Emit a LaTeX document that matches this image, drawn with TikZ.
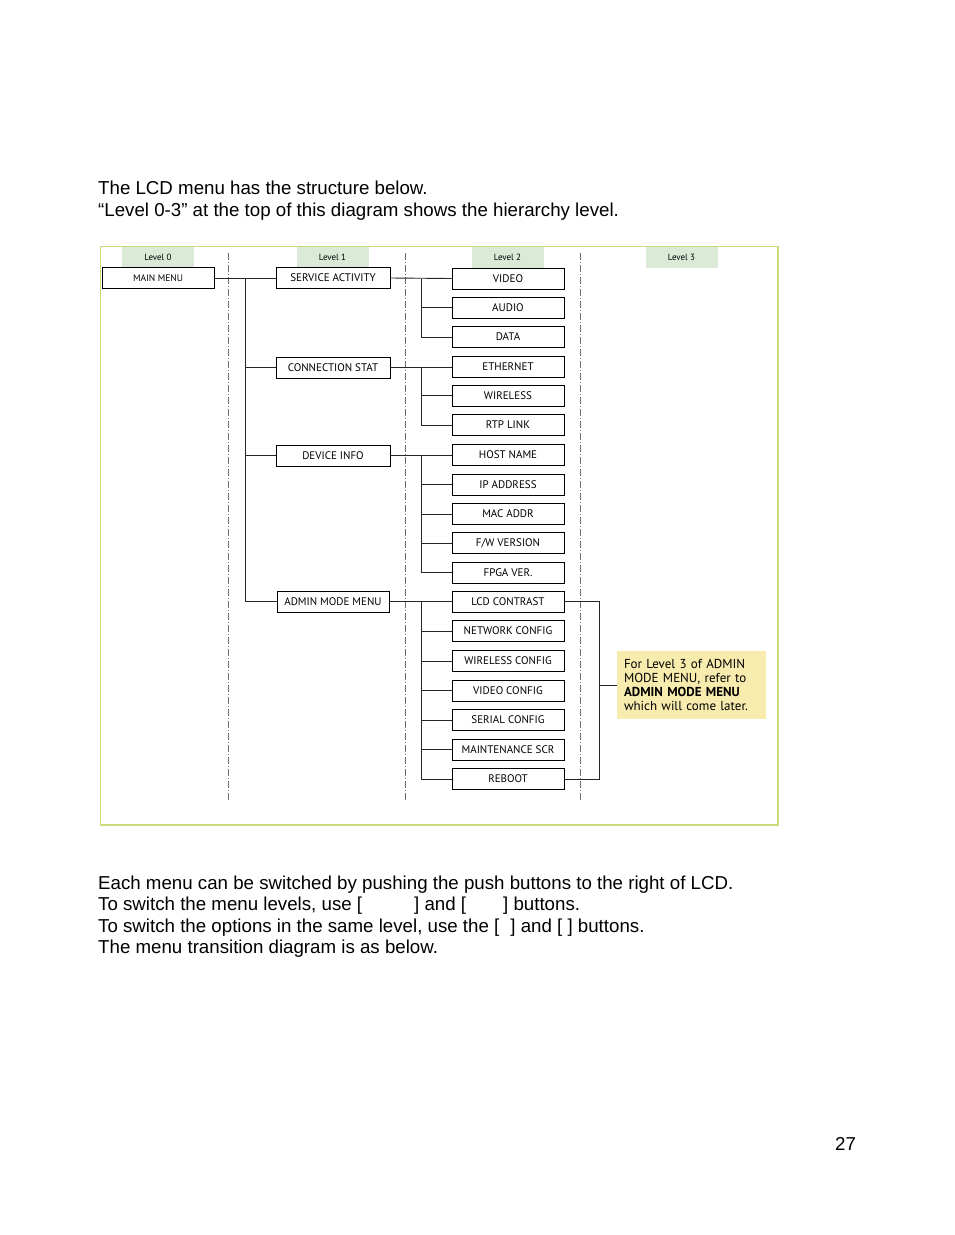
\documentclass[tikz,border=0pt]{standalone}
\usepackage{fontspec}
\setmainfont{Liberation Sans}
\newfontfamily\diagfont{PT Sans}
\definecolor{frameg}{HTML}{C8DC7C}
\definecolor{lvlg}{HTML}{DAEAD7}
\definecolor{notey}{HTML}{F8EBAE}
\definecolor{dashg}{HTML}{6E6E6E}
\begin{document}
\begin{tikzpicture}[x=1pt,y=-1pt,
  body/.style={anchor=base west,inner sep=0pt,font=\fontsize{18.7}{21.5}\selectfont},
  lvlhead/.style={fill=lvlg,minimum width=72pt,minimum height=21pt,inner sep=0pt,font=\diagfont\fontsize{9}{10}\selectfont},
  mbox/.style={draw,line width=0.9pt,fill=white,minimum width=112pt,minimum height=21pt,inner sep=0pt,font=\diagfont\fontsize{11}{12}\selectfont},
  lbox/.style={mbox,minimum width=114pt},
  conn/.style={line width=0.9pt,draw=black!85},
  levelsep/.style={line width=0.8pt,draw=dashg,dash pattern=on 7pt off 2pt on 1pt off 2pt}
]
\useasboundingbox[fill=white] (0,0) rectangle (954,1235);

% page texts
\node[body] (t1) at (98,194) {The LCD menu has the structure below.};
\node[body] (t2) at (98,216) {“Level 0-3” at the top of this diagram shows the hierarchy level.};
\node[body] (b1) at (98,889) {Each menu can be switched by pushing the push buttons to the right of LCD.};
\node[body] (b2) at (98,910) {To switch the menu levels, use [\hspace{52pt}] and [\hspace{37pt}] buttons.};
\node[body] (b3) at (98,932) {To switch the options in the same level, use the [\hspace{11pt}] and [ ] buttons.};
\node[body] (b4) at (98,953) {The menu transition diagram is as below.};
\node[body] (pg) at (835,1150) {27};

% frame
\draw[frameg,line width=1.2pt] (100.5,246.5) rectangle (778,825);

% level headers
\node[lvlhead] (h0) at (158,257.5) {Level 0};
\node[lvlhead] (h1) at (332.5,257.5) {Level 1};
\node[lvlhead] (h2) at (507.5,257.5) {Level 2};
\node[lvlhead] (h3) at (681.5,257.5) {Level 3};

% level separators
\coordinate (d1t) at (228,253); \coordinate (d1b) at (228,802);
\coordinate (d2t) at (405,253); \coordinate (d2b) at (405,802);
\coordinate (d3t) at (580,253); \coordinate (d3b) at (580,802);
\draw[levelsep] (d1t) -- (d1b);
\draw[levelsep] (d2t) -- (d2b);
\draw[levelsep] (d3t) -- (d3b);

% level 0
\node[mbox,font=\diagfont\fontsize{9.5}{11}\selectfont] (main) at (158,278) {MAIN MENU};

% level 1
\node[lbox] (sa) at (333,278) {SERVICE ACTIVITY};
\node[lbox] (cs) at (333,367.5) {CONNECTION STAT};
\node[lbox] (di) at (333,455.5) {DEVICE INFO};
\node[mbox] (am) at (333,601.5) {ADMIN MODE MENU};

% level 2
\node[mbox] (video) at (508,278.5) {VIDEO};
\node[mbox] (audio) at (508,307.5) {AUDIO};
\node[mbox] (data) at (508,337) {DATA};
\node[mbox] (eth) at (508,366.5) {ETHERNET};
\node[mbox] (wl) at (508,395.5) {WIRELESS};
\node[mbox] (rtp) at (508,425) {RTP LINK};
\node[mbox] (host) at (508,454.5) {HOST NAME};
\node[mbox] (ip) at (508,484.5) {IP ADDRESS};
\node[mbox] (mac) at (508,514) {MAC ADDR};
\node[mbox] (fw) at (508,543) {F/W VERSION};
\node[mbox] (fpga) at (508,572.5) {FPGA VER.};
\node[mbox] (lcd) at (508,601.5) {LCD CONTRAST};
\node[mbox] (net) at (508,631) {NETWORK CONFIG};
\node[mbox] (wlc) at (508,661) {WIRELESS CONFIG};
\node[mbox] (vc) at (508,690.5) {VIDEO CONFIG};
\node[mbox] (sc) at (508,720) {SERIAL CONFIG};
\node[mbox] (ms) at (508,749.5) {MAINTENANCE SCR};
\node[mbox] (rb) at (508,779) {REBOOT};

% note
\node[fill=notey,minimum width=149pt,minimum height=68pt,inner sep=0pt,
  text width=135pt,align=left,font=\diagfont\fontsize{13}{14}\selectfont] (note) at (691.5,685)
  {For Level 3 of ADMIN\\MODE MENU, refer to\\\textbf{ADMIN MODE MENU}\\which will come later.};

% connectors level 0 -> 1
\coordinate (s1) at (245,0);
\draw[conn] (main.east) -- (sa.west);
\draw[conn] (s1 |- sa.west) -- (s1 |- am.west) -- (am.west);
\draw[conn] (s1 |- cs.west) -- (cs.west);
\draw[conn] (s1 |- di.west) -- (di.west);

% connectors level 1 -> 2
\coordinate (s2) at (421,0);
\draw[conn] (sa.east) -- (video.west);
\draw[conn] (s2 |- video.west) -- (s2 |- data.west) -- (data.west);
\draw[conn] (s2 |- audio.west) -- (audio.west);

\draw[conn] (cs.east) -- (cs.east -| eth.west);
\draw[conn] (s2 |- cs.east) -- (s2 |- rtp.west) -- (rtp.west);
\draw[conn] (s2 |- wl.west) -- (wl.west);

\draw[conn] (di.east) -- (di.east -| host.west);
\draw[conn] (s2 |- di.east) -- (s2 |- fpga.west) -- (fpga.west);
\draw[conn] (s2 |- ip.west) -- (ip.west);
\draw[conn] (s2 |- mac.west) -- (mac.west);
\draw[conn] (s2 |- fw.west) -- (fw.west);

\draw[conn] (am.east) -- (lcd.west);
\draw[conn] (s2 |- lcd.west) -- (s2 |- rb.west) -- (rb.west);
\draw[conn] (s2 |- net.west) -- (net.west);
\draw[conn] (s2 |- wlc.west) -- (wlc.west);
\draw[conn] (s2 |- vc.west) -- (vc.west);
\draw[conn] (s2 |- sc.west) -- (sc.west);
\draw[conn] (s2 |- ms.west) -- (ms.west);

% bracket to note
\coordinate (br) at (599,0);
\draw[conn] (lcd.east) -- (br |- lcd.east) -- (br |- rb.east) -- (rb.east);
\draw[conn] (br |- note.west) -- (note.west);
\end{tikzpicture}
\end{document}
